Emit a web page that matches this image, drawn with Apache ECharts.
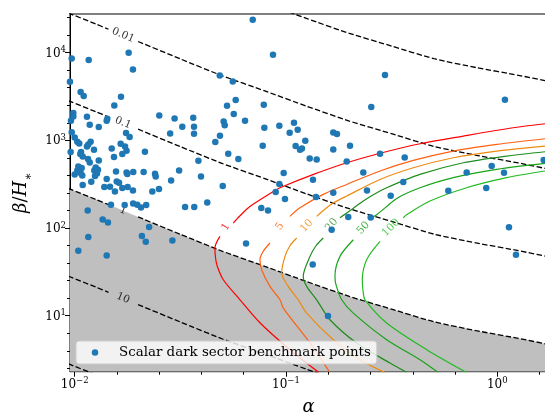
<!DOCTYPE html>
<html>
<head>
<meta charset="utf-8">
<script src="https://cdn.jsdelivr.net/npm/echarts@6/dist/echarts.min.js"></script>
<style>
  html, body { margin: 0; padding: 0; background: #fff; }
  #chart { width: 545px; height: 419px; }
</style>
</head>
<body>
<div id="chart"></div>
<script>
const serif = 'DejaVu Serif';
const ptName = 'Scalar dark sector benchmark points';

// benchmark points: alpha and beta/H*
const ptAlpha = [0.00968, 0.01165, 0.0180, 0.01887, 0.00950, 0.01067, 0.01103, 0.01656, 0.0154, 0.00985,
  0.00985, 0.01143, 0.01427, 0.01417, 0.02514, 0.0297, 0.0364, 0.0096, 0.01178, 0.0130,
  0.00968, 0.0175, 0.0182, 0.0283, 0.0323, 0.0367, 0.0367, 0.0100, 0.01029, 0.01051,
  0.0116, 0.0119, 0.01143, 0.01234, 0.01497, 0.0165, 0.0173, 0.0176, 0.0168, 0.01535,
  0.0215, 0.00957, 0.01071, 0.01063, 0.01091, 0.01156, 0.01178, 0.0130, 0.0104, 0.01079,
  0.01029, 0.01067, 0.01257, 0.01238, 0.01289, 0.01275, 0.01248, 0.01086, 0.0100, 0.01569,
  0.0176, 0.01774, 0.01893, 0.0212, 0.0240, 0.02417, 0.0312, 0.0385, 0.0396, 0.01417,
  0.01581, 0.01621, 0.01198, 0.0286, 0.01091, 0.01381, 0.01469, 0.01781, 0.0168, 0.01551,
  0.01887, 0.02506, 0.0233, 0.01485, 0.01724, 0.0189, 0.01978, 0.0206, 0.0218, 0.0333,
  0.0368, 0.01152, 0.01357, 0.01437, 0.0225, 0.0208, 0.0116, 0.0290, 0.0104, 0.01417,
  0.0217, 0.0696, 0.0868, 0.0486, 0.0560, 0.0578, 0.0526, 0.0785, 0.0566, 0.0640,
  0.0507, 0.0513, 0.0790, 0.0930, 0.1091, 0.1136, 0.1041, 0.1674, 0.1743, 0.2533,
  0.0487, 0.0463, 0.0776, 0.1111, 0.1165, 0.1190, 0.1234, 0.1674, 0.2009, 0.0533,
  0.0595, 0.1295, 0.1397, 0.1938, 0.0975, 0.2322, 0.0502, 0.1342, 0.0930, 0.0894,
  0.0989, 0.1674, 0.1387, 0.0424, 0.0764, 0.0822, 0.2417, 0.1971, 0.2517, 0.1645,
  0.0647, 1.087, 0.2786, 0.3646, 0.3590, 0.3130, 0.7165, 0.9408, 1.076, 0.5864,
  0.8869, 1.658, 1.136, 1.226, 0.2941, 0.1338, 0.1581];
const ptBeta = [8590, 8230, 9970, 6430, 4660, 3560, 3200, 3140, 2500, 2050,
  1870, 1860, 1760, 1670, 1920, 1780, 1810, 1670, 1510, 1420,
  1240, 1210, 1090, 1200, 1430, 1430, 1190, 1080, 964, 922,
  898, 964, 852, 781, 808, 915, 852, 761, 698, 645,
  741, 735, 735, 698, 655, 612, 560, 590, 504, 483,
  454, 424, 491, 454, 462, 419, 392, 398, 409, 442,
  431, 413, 435, 435, 416, 388, 454, 586, 388, 362,
  340, 329, 337, 349, 309, 293, 296, 293, 286, 261,
  268, 278, 261, 184, 183, 191, 184, 172, 183, 174,
  174, 159, 125, 116, 103, 81.1, 78.9, 72.2, 55.1, 48.7,
  69.8, 23700, 9460, 5500, 4700, 2880, 2480, 2550, 2000, 1670,
  1640, 1490, 1390, 1470, 1590, 1320, 1220, 1230, 1180, 2400,
  1130, 956, 868, 861, 781, 808, 990, 787, 868, 704,
  612, 622, 606, 575, 424, 431, 301, 355, 318, 257,
  214, 253, 226, 196, 169, 158, 268, 134, 132, 95.6,
  66.7, 2900, 704, 638, 335, 234, 431, 509, 427, 266,
  286, 596, 102, 49.6, 5550, 38.5, 9.92];

// dashed contours (levels 0.001 ... 100), sampled at common alpha values
const dashAlpha = [0.00933, 0.0126, 0.01445, 0.01995, 0.0316, 0.0501, 0.0794, 0.1259, 0.1995, 0.316, 0.501, 0.794, 1.259, 1.75];
const dash0001 = [283000, 212000, 185000, 134000, 84900, 54300, 36600, 24400, 16600, 11900, 8530, 6760, 5520, 4700];
const dash001 = [28300, 21200, 18500, 13400, 8490, 5430, 3660, 2440, 1660, 1190, 853, 676, 552, 470];
const dash01 = [2830, 2120, 1850, 1340, 849, 543, 366, 244, 166, 119, 85.3, 67.6, 55.2, 47.0];
const dash1 = [283, 212, 185, 134, 84.9, 54.3, 36.6, 24.4, 16.6, 11.9, 8.53, 6.76, 5.52, 4.70];
const dash10 = [28.3, 21.2, 18.5, 13.4, 8.49, 5.43, 3.66, 2.44, 1.66];
const dash100 = [2.83, 2.12];
const dashLabels = ['0.01', '0.1', '1', '10'];
const dashLabelAlpha = [0.01694, 0.01694, 0.01694, 0.01694];
const dashLabelBeta = [15810, 1581, 158.1, 15.81];

// coloured contours, null marks the gap left for the inline label
const cont1 = [[1.682, 1546], [1.190, 1392], [0.690, 1119], [0.431, 915], [0.279, 713], [0.194, 555], [0.135, 409],
  [0.0937, 288], [0.0871, 261], [0.0675, 176], [0.0606, 138], [0.0563, 114], null,
  [0.0487, 80.2], [0.0461, 59.2], [0.0464, 45.8], [0.0472, 37.2], [0.0505, 25.7], [0.0606, 15.2],
  [0.0753, 8.32], [0.1044, 4.10], [0.1433, 2.25]];
const cont5 = [[1.682, 1043], [0.9936, 898], [0.6192, 755], [0.4004, 590], [0.2786, 447], [0.1938, 314], [0.1501, 242],
  [0.1165, 170], [0.1044, 136], null,
  [0.0840, 67.5], [0.0778, 53.7], [0.0753, 43.5], [0.0767, 33.5], [0.0840, 21.6], [0.0937, 15.2],
  [0.0971, 12.2], [0.1299, 4.88], [0.1615, 2.25]];
const cont10 = [[1.682, 861], [0.9936, 755], [0.6192, 633], [0.4004, 487], [0.2786, 358], [0.1938, 232], [0.1674, 193],
  [0.1558, 170], [0.1397, 136], null,
  [0.1124, 76.9], [0.1044, 62.8], [0.0989, 47.5], [0.0954, 30.7], [0.1025, 21.6], [0.1143, 15.2],
  [0.1253, 10.7], [0.1674, 5.32], [0.2239, 3.15], [0.2941, 2.25]];
const cont20 = [[1.682, 741], [1.108, 662], [0.6904, 555], [0.4306, 409], [0.2996, 288], [0.2590, 240], [0.2322, 203],
  [0.1938, 148], [0.1801, 131], null,
  [0.1501, 76.9], [0.1387, 62.8], [0.1299, 47.5], [0.1207, 28.1], [0.1253, 21.6], [0.1397, 15.2],
  [0.1615, 9.00], [0.2161, 4.88], [0.3106, 2.89], [0.3737, 2.25]];
const cont50 = [[1.682, 545], [0.9936, 466], [0.6192, 375], [0.4306, 288], [0.3463, 229], [0.3220, 203], [0.2687, 142],
  [0.2545, 131], null,
  [0.2083, 73.5], [0.1801, 47.5], [0.1705, 28.1], [0.1724, 22.6], [0.1835, 15.2], [0.2083, 10.7],
  [0.2996, 5.32], [0.4306, 3.15], [0.5258, 2.25]];
const cont100 = [[1.682, 447], [1.108, 375], [0.7165, 288], [0.4803, 203], [0.3725, 142], [0.3590, 131], null,
  [0.2786, 70.4], [0.2409, 43.5], [0.2297, 25.7], [0.2322, 18.1], [0.2365, 15.2], [0.2996, 8.26],
  [0.4634, 4.10], [0.7165, 2.25]];
const contLabels = ['1', '5', '10', '20', '50', '100'];
const contColors = ['#ff0000', '#ff6010', '#ef8a10', '#1f8c1f', '#18a318', '#22bb22'];
const contLabelAlpha = [0.0520, 0.0937, 0.1253, 0.1645, 0.2322, 0.3140];
const contLabelBeta = [103, 104, 106, 109, 100, 101];
const contLabelAngle = [58, 55, 48, 50, 47, 45];

// ticks
const xMajor = [0.01, 0.1, 1];
const xMinor = [0.01585, 0.02512, 0.03981, 0.0631, 0.1585, 0.2512, 0.3981, 0.631, 1.585];
const yMajor = [10, 100, 1000, 10000];
const yMinor = [2.512, 3.981, 6.31, 15.85, 25.12, 39.81, 63.1, 158.5, 251.2, 398.1, 631,
  1585, 2512, 3981, 6310, 15850, 25120];
const xMin = 0.009502, xMax = 1.719, yMin = 2.30, yMax = 27600;

function zip(xs, ys, gapAt) {
  const out = [];
  for (let i = 0; i < ys.length; i++) {
    out.push([xs[i], ys[i]]);
    if (i === gapAt) out.push(null);
  }
  return out;
}

function powLabel(v) {
  const e = Math.round(Math.log10(v));
  return '{b|10}{s|' + String(e).replace('-', '\u2212') + '}';
}
const tickRich = {
  b: { fontFamily: serif, fontSize: 12, color: '#000', lineHeight: 14, verticalAlign: 'bottom' },
  s: { fontFamily: serif, fontSize: 8.5, color: '#000', lineHeight: 10, verticalAlign: 'top', padding: [0, 0, 8, 0] }
};

function dashed(data) {
  return {
    type: 'line', data: data, symbol: 'none', silent: true, smooth: 0.2, connectNulls: false, z: 3,
    lineStyle: { color: '#000', width: 1.3, type: [5.5, 2.4] }
  };
}
function solid(data, color) {
  return {
    type: 'line', data: data, symbol: 'none', silent: true, smooth: 0.3, connectNulls: false, z: 4,
    lineStyle: { color: color, width: 1.2 }
  };
}

const chart = echarts.init(document.getElementById('chart'), null, { renderer: 'canvas' });

const labelData = [];
for (let i = 0; i < dashLabels.length; i++) {
  labelData.push({
    name: dashLabels[i], value: [dashLabelAlpha[i], dashLabelBeta[i]],
    label: { rotate: -22.5, color: '#000' }
  });
}
for (let i = 0; i < contLabels.length; i++) {
  labelData.push({
    name: contLabels[i], value: [contLabelAlpha[i], contLabelBeta[i]],
    label: { rotate: contLabelAngle[i], color: contColors[i] }
  });
}

const contours = [cont1, cont5, cont10, cont20, cont50, cont100];

const option = {
  animation: false,
  backgroundColor: '#fff',
  grid: {
    left: 70, right: -2, top: 14, bottom: 47.3,
    show: true, borderColor: '#000', borderWidth: 1,
    containLabel: false, outerBoundsMode: 'none'
  },
  legend: {
    data: [ptName], left: 76, top: 341, icon: 'circle',
    itemWidth: 6.5, itemHeight: 6.5, padding: [5, 6, 5, 15.75],
    backgroundColor: 'rgba(255,255,255,0.8)', borderColor: '#cccccc', borderWidth: 1, borderRadius: 3,
    textStyle: { fontFamily: serif, fontSize: 13.4, color: '#000', padding: [0, 0, 0, 15.75] },
    z: 20
  },
  xAxis: [{
    type: 'log', min: xMin, max: xMax, position: 'bottom',
    name: 'α', nameLocation: 'middle', nameGap: 26,
    nameTextStyle: { fontFamily: serif, fontStyle: 'italic', fontSize: 18, color: '#000' },
    axisLine: { show: true, lineStyle: { color: '#000', width: 1 } },
    axisTick: { show: true, inside: false, length: 5, customValues: xMajor, lineStyle: { color: '#000' } },
    axisLabel: { customValues: xMajor, formatter: powLabel, rich: tickRich, margin: 5 },
    splitLine: { show: false }
  }, {
    type: 'log', min: xMin, max: xMax, position: 'bottom',
    axisLine: { show: false },
    axisTick: { show: true, inside: false, length: 3, customValues: xMinor, lineStyle: { color: '#000' } },
    axisLabel: { show: false },
    splitLine: { show: false }
  }],
  yAxis: [{
    type: 'log', min: yMin, max: yMax, position: 'left',
    name: '{i|β}{r|/}{i|H}{sub|∗}', nameLocation: 'middle', nameGap: 35, nameRotate: 90,
    nameTextStyle: {
      color: '#000',
      rich: {
        i: { fontFamily: serif, fontStyle: 'italic', fontSize: 18, color: '#000', lineHeight: 22, verticalAlign: 'top' },
        r: { fontFamily: serif, fontSize: 18, color: '#000', lineHeight: 22, verticalAlign: 'top' },
        sub: { fontFamily: serif, fontSize: 12, color: '#000', lineHeight: 14, verticalAlign: 'bottom' }
      }
    },
    axisLine: { show: true, lineStyle: { color: '#000', width: 1 } },
    axisTick: { show: true, inside: false, length: 5, customValues: yMajor, lineStyle: { color: '#000' } },
    axisLabel: { customValues: yMajor, formatter: powLabel, rich: tickRich, margin: 4 },
    splitLine: { show: false }
  }, {
    type: 'log', min: yMin, max: yMax, position: 'left',
    axisLine: { show: false },
    axisTick: { show: true, inside: false, length: 3, customValues: yMinor, lineStyle: { color: '#000' } },
    axisLabel: { show: false },
    splitLine: { show: false }
  }],
  series: [
    {
      type: 'line', data: zip(dashAlpha, dash1, -1), symbol: 'none', silent: true, smooth: 0.2, z: 1,
      lineStyle: { width: 0, opacity: 0 },
      areaStyle: { color: '#bfbfbf', opacity: 1, origin: 'start' }
    },
    dashed(zip(dashAlpha, dash0001, -1)),
    dashed(zip(dashAlpha, dash001, 2)),
    dashed(zip(dashAlpha, dash01, 2)),
    dashed(zip(dashAlpha, dash1, 2)),
    dashed(zip(dashAlpha, dash10, 2)),
    dashed(zip(dashAlpha, dash100, -1))
  ].concat(contours.map((c, i) => solid(c, contColors[i]))).concat([
    {
      type: 'scatter', data: labelData, symbolSize: 0, silent: true, z: 5,
      label: { show: true, position: 'inside', formatter: '{b}', fontFamily: serif, fontSize: 10.5 }
    },
    {
      name: ptName, type: 'scatter', data: zip(ptAlpha, ptBeta, -1), symbol: 'circle', symbolSize: 6.5,
      itemStyle: { color: '#1f77b4', opacity: 1 }, z: 6
    }
  ])
};
chart.setOption(option);
</script>
</body>
</html>
